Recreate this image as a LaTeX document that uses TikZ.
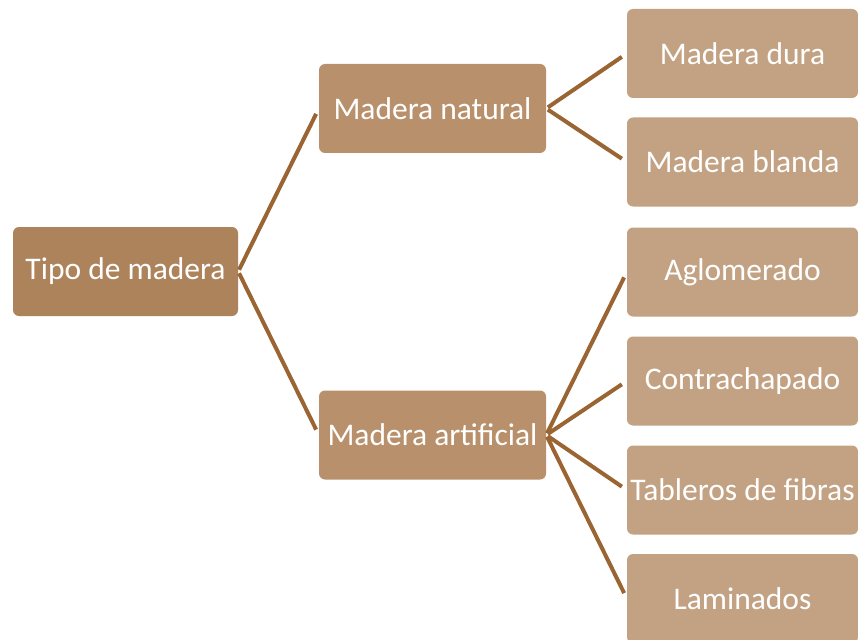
\documentclass[tikz,border=0pt]{standalone}
\usepackage{fontspec}
\setmainfont{Carlito}
\definecolor{rootc}{HTML}{AD835B}
\definecolor{midc}{HTML}{B8916C}
\definecolor{leafc}{HTML}{C2A283}
\definecolor{linec}{HTML}{9A6532}
\tikzset{
  box/.style={rectangle, rounded corners=6pt, inner sep=0pt, text=white,
    font=\fontsize{31.5}{36}\selectfont, minimum height=89pt},
  rootbox/.style={box, fill=rootc, minimum width=225pt},
  midbox/.style={box, fill=midc, minimum width=227pt},
  leafbox/.style={box, fill=leafc, minimum width=231pt},
  conn/.style={draw=linec, line width=4pt, shorten >=6pt, shorten <=2pt}
}
\begin{document}
\begin{tikzpicture}[x=1pt,y=-1pt]
\useasboundingbox (0,0) rectangle (858,639);
\clip (0,0) rectangle (858,639);
\node[rootbox] (root) at (125.5,271.5) {Tipo de madera};
\node[midbox] (nat) at (432.5,108.5) {Madera natural};
\node[midbox] (art) at (432.5,435) {Madera artificial};
\node[leafbox] (dura) at (742.5,53.5) {Madera dura};
\node[leafbox] (blanda) at (742.5,162) {Madera blanda};
\node[leafbox] (aglo) at (742.5,272) {Aglomerado};
\node[leafbox] (contra) at (742.5,381) {Contrachapado};
\node[leafbox] (tab) at (742.5,490) {Tableros de fibras};
\node[leafbox] (lam) at (742.5,598.5) {Laminados};
\draw[conn] (root.east) -- (nat.west);
\draw[conn] (root.east) -- (art.west);
\draw[conn] (nat.east) -- (dura.west);
\draw[conn] (nat.east) -- (blanda.west);
\draw[conn] (art.east) -- (aglo.west);
\draw[conn] (art.east) -- (contra.west);
\draw[conn] (art.east) -- (tab.west);
\draw[conn] (art.east) -- (lam.west);
\end{tikzpicture}
\end{document}
